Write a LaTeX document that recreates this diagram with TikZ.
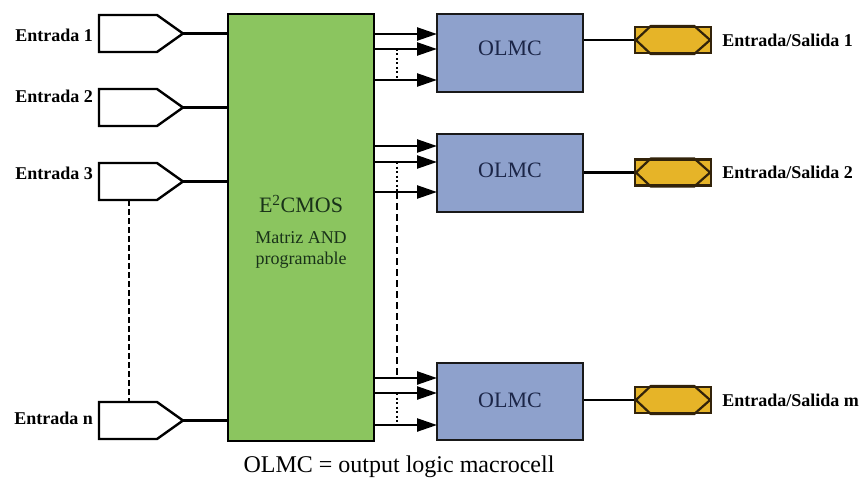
\documentclass[tikz,border=0pt]{standalone}
\usepackage{fontspec}
\setmainfont{Liberation Serif}
\usetikzlibrary{arrows.meta,calc}
\definecolor{andgreen}{RGB}{139,197,95}
\definecolor{olmcblue}{RGB}{142,161,204}
\definecolor{iogold}{RGB}{230,180,40}
\definecolor{olmctext}{RGB}{28,38,72}
\definecolor{andtext}{RGB}{25,50,25}
\definecolor{ioedge}{RGB}{50,35,10}
\begin{document}
\begin{tikzpicture}[x=1pt,y=-1pt,
  inshape/.style={minimum width=84pt,minimum height=37pt,inner sep=0pt,outer sep=0pt},
  wire/.style={line width=2.4pt,black},
  lbl/.style={font=\fontsize{18}{20}\selectfont\bfseries,inner sep=0pt},
  andbox/.style={draw=black,line width=2.2pt,fill=andgreen,minimum width=146pt,minimum height=427pt,inner sep=0pt},
  andtxt/.style={text=andtext,inner sep=0pt,font=\fontsize{18}{20}\selectfont},
  olmcbox/.style={draw=black!90,line width=2.4pt,fill=olmcblue,minimum width=146pt,minimum height=78pt,inner sep=0pt},
  olmctxt/.style={text=olmctext,inner sep=0pt,font=\fontsize{22}{24}\selectfont},
  iobox/.style={draw=ioedge,line width=2.2pt,fill=iogold,minimum width=76pt,minimum height=26pt,inner sep=0pt},
  hexline/.style={draw=ioedge,line width=2.2pt},
  arr/.style={line width=2.4pt,-{Triangle[length=20pt,width=13pt]}},
  dotln/.style={line width=2.4pt,dash pattern=on 2pt off 2.5pt},
  dashln/.style={line width=2.2pt,dash pattern=on 7pt off 4pt},
  leftdash/.style={line width=2.2pt,dash pattern=on 6pt off 3pt}
]
\useasboundingbox (0,0) rectangle (866,484);

% AND matrix
\node[andbox] (and) at (301,227.5) {};
\node[andtxt,font=\fontsize{22}{24}\selectfont] (andt1) at (301,204) {E\textsuperscript{2}CMOS};
\node[andtxt] (andt2) at (301,238) {Matriz AND};
\node[andtxt] (andt3) at (301,260) {programable};

% Inputs
\foreach \n/\y/\ly/\t in {in1/33.5/35/Entrada 1, in2/107.5/96/Entrada 2, in3/181.5/173/Entrada 3, inn/420.5/418/Entrada n}{
  \node[inshape] (\n) at (141,\y) {};
  \draw[wire] (\n.north west) -- ($(\n.north east)+(-26,0)$) -- (\n.east) -- ($(\n.south east)+(-26,0)$) -- (\n.south west) -- cycle;
  \draw[wire] (\n.east) -- (\n.east -| and.west);
  \node[lbl,anchor=east] (\n l) at (93,\ly) {\t};
}
\coordinate (ldx) at (129,0);
\draw[leftdash] (in3.south -| ldx) -- (inn.north -| ldx);

% OLMC blocks
\node[olmcbox] (olmc1) at (510,53) {};
\node[olmcbox] (olmc2) at (510,173) {};
\node[olmcbox,minimum height=77pt] (olmc3) at (510,401.5) {};
\node[olmctxt] (o1t) at (510,48) {OLMC};
\node[olmctxt] (o2t) at (510,170) {OLMC};
\node[olmctxt] (o3t) at (510,400) {OLMC};

% Arrow coordinates
\coordinate (a11) at (437,34);  \coordinate (a12) at (437,49);  \coordinate (a13) at (437,80);
\coordinate (a21) at (437,146); \coordinate (a22) at (437,162); \coordinate (a23) at (437,192);
\coordinate (a31) at (437,378); \coordinate (a32) at (437,393); \coordinate (a33) at (437,425);
\foreach \a in {a11,a12,a13,a21,a22,a23,a31,a32,a33}{
  \draw[arr] (\a -| and.east) -- (\a);
}
\coordinate (dx) at (397,0);
\draw[dotln] (a12 -| dx) -- (a13 -| dx);
\draw[dotln] (a22 -| dx) -- (a23 -| dx);
\draw[dashln] (a23 -| dx) -- (a31 -| dx);
\draw[dotln] (a32 -| dx) -- (a33 -| dx);

% Input/Output pads
\foreach \n/\y/\o/\t in {io1/40/olmc1/{Entrada/Salida 1}, io2/172.5/olmc2/{Entrada/Salida 2}, io3/400/olmc3/{Entrada/Salida m}}{
  \node[iobox] (\n) at (673,\y) {};
  \draw[hexline] ($(\n.west)+(2,0)$) -- ($(\n.north west)+(17,0)$) -- ($(\n.north east)+(-18,0)$) -- ($(\n.east)+(-2,0)$) -- ($(\n.south east)+(-18,0)$) -- ($(\n.south west)+(17,0)$) -- cycle;
  \draw[wire] (\o.east |- \n.west) -- (\n.west);
  \node[lbl,anchor=west] (\n l) at ($(\n.east)+(10,0)$) {\t};
}

% Caption
\node[inner sep=0pt,font=\fontsize{24}{26}\selectfont] (cap) at (399,467) {OLMC = output logic macrocell};
\end{tikzpicture}
\end{document}
